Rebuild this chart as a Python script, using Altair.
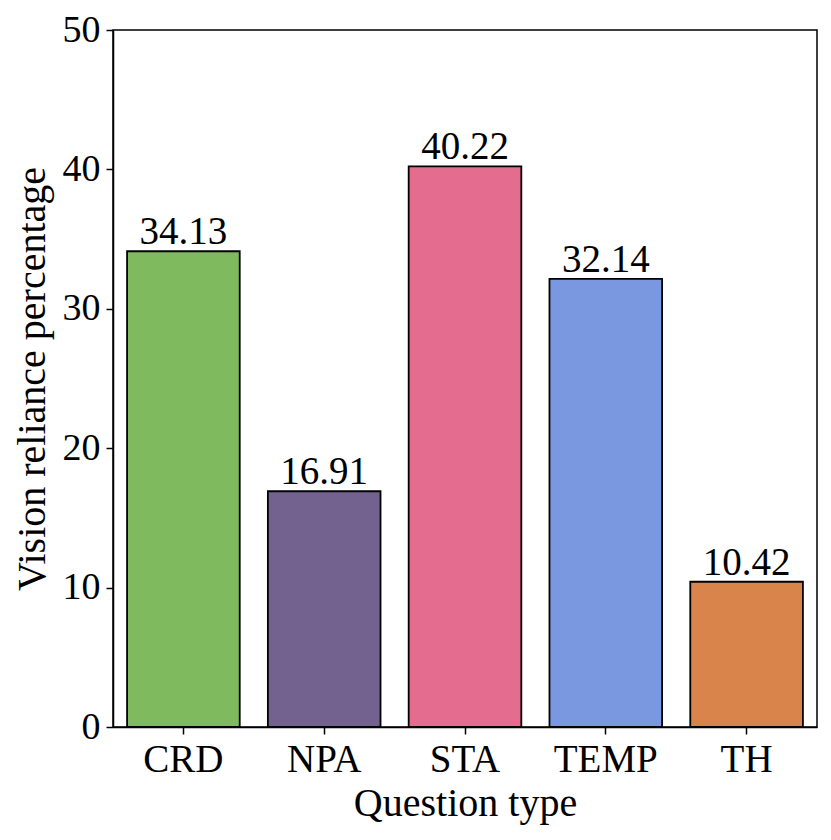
import altair as alt
import pandas as pd

categories = ["CRD", "NPA", "STA", "TEMP", "TH"]
values = [34.13, 16.91, 40.22, 32.14, 10.42]
colors = ["#7fba5f", "#736290", "#e46c8e", "#7a98e0", "#d8844a"]

df = pd.DataFrame({"cat": categories, "val": values})
FONT = "Liberation Serif"

x = alt.X("cat:N", sort=categories, title="Question type",
          scale=alt.Scale(paddingInner=0.2, paddingOuter=0.1),
          axis=alt.Axis(labelAngle=0, labelFontSize=39, titleFontSize=40,
                        labelPadding=6, titlePadding=4, tickSize=7,
                        tickColor="black", domainColor="black", tickWidth=1.5,
                        domainWidth=1.5, labelColor="black", titleColor="black",
                        labelFont=FONT, titleFont=FONT, titleFontWeight="normal"))
y = alt.Y("val:Q", title="Vision reliance percentage",
          scale=alt.Scale(domain=[0, 50], nice=False),
          axis=alt.Axis(values=[0, 10, 20, 30, 40, 50], grid=False, labelFontSize=38,
                        titleFontSize=40, labelPadding=6, titlePadding=10, tickSize=7,
                        tickColor="black", domainColor="black", tickWidth=1.5,
                        domainWidth=1.5, labelColor="black", titleColor="black",
                        labelFont=FONT, titleFont=FONT, titleFontWeight="normal"))

bars = alt.Chart(df).mark_bar(stroke="black", strokeWidth=1.8).encode(
    x=x, y=y,
    color=alt.Color("cat:N", sort=categories,
                    scale=alt.Scale(domain=categories, range=colors), legend=None),
)
labels = alt.Chart(df).mark_text(dy=-7, baseline="alphabetic", fontSize=39,
                                 font=FONT, color="black").encode(
    x=alt.X("cat:N", sort=categories),
    y="val:Q",
    text=alt.Text("val:Q", format=".2f"),
)

chart = (bars + labels).properties(
    width=704, height=697,
    autosize=alt.AutoSizeParams(type="none"),
    padding={"left": 105, "top": 22, "right": 6, "bottom": 100},
).configure_view(stroke="black", strokeWidth=1.5)

chart.save("out.html", embed_options={"renderer": "svg", "actions": False})
